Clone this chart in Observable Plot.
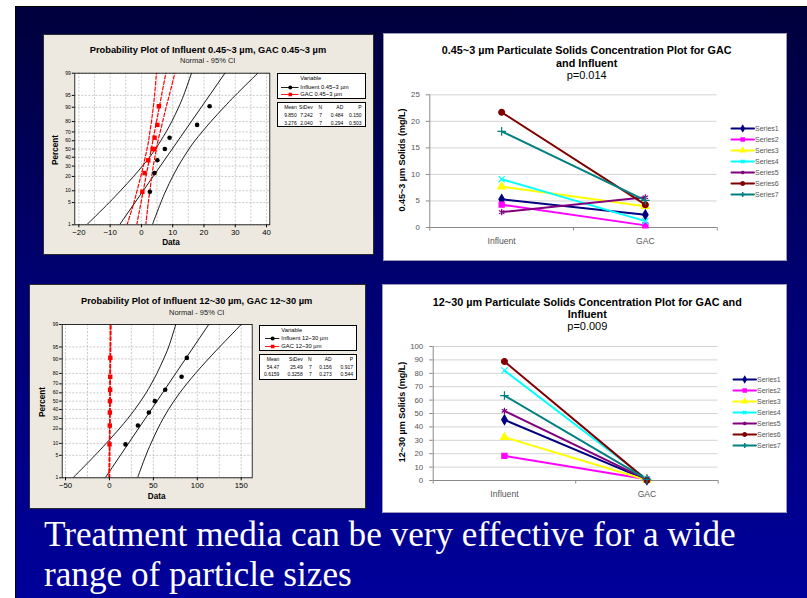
<!DOCTYPE html>
<html><head><meta charset="utf-8">
<script src="https://cdn.jsdelivr.net/npm/d3@7"></script>
<script src="https://cdn.jsdelivr.net/npm/@observablehq/plot@0.6"></script>
<style>
html,body{margin:0;padding:0;background:#fff;}
#slide{position:relative;width:807px;height:598px;overflow:hidden;background:#fff;}
#bg{position:absolute;left:15px;top:6px;width:800px;height:600px;background:linear-gradient(#00003c,#000070 45%,#00009c);border-left:1px solid #000;border-top:1px solid #000;}
.abs{position:absolute;box-sizing:border-box;}
.lbl{position:absolute;white-space:nowrap;line-height:1;}
#caption{position:absolute;left:44px;top:515px;font:35.2px "Liberation Serif","Times New Roman",serif;line-height:40px;color:#fff;white-space:nowrap;}
</style></head><body><div id="slide"><div id="bg"></div>
<div id="caption">Treatment media can be very effective for a wide<br>range of particle sizes</div></div>
<script>
// ---------- data ----------
const categories = ["Influent", "GAC"];
const seriesNames = ["Series1","Series2","Series3","Series4","Series5","Series6","Series7"];
const seriesColors = ["#000080","#FF00FF","#FFFF00","#00FFFF","#800080","#800000","#008080"];
const seriesSymbols = ["diamond","square","triangle","times","asterisk","circle","plus"];

// 0.45~3 um concentrations (mg/L)
const fineInfluent = [5.3, 4.3, 7.7, 9.1, 2.9, 21.7, 18.1];
const fineGAC      = [2.4, 0.4, 4.0, 1.2, 5.7, 4.3, 5.1];
// 12~30 um concentrations (mg/L)
const coarseInfluent = [45.3, 18.4, 32.3, 82.1, 52.0, 88.8, 63.4];
const coarseGAC      = [0.5, 1.0, 0.4, 0.9, 0.6, 0.1, 0.8];

const fineYTicks = [0, 5, 10, 15, 20, 25];
const coarseYTicks = [0, 10, 20, 30, 40, 50, 60, 70, 80, 90, 100];

// probability plots
const percentTicks = [1, 5, 10, 20, 30, 40, 50, 60, 70, 80, 90, 95, 99];
const rankPercents = [9.46, 22.97, 36.49, 50, 63.51, 77.03, 90.54];
const ciPercents   = [1, 5, 10, 20, 30, 40, 50, 60, 70, 80, 90, 95, 99];
const fitPercents  = [1, 99];

const fineInfluentSorted = [2.7, 4.2, 5.1, 7.5, 9.0, 17.8, 21.8];
const fineGACPoints   = [0.3, 1.0, 2.2, 3.6, 4.1, 4.2, 5.1, 5.6];
const fineGACPercents = [9.46, 22.97, 36.49, 50, 50, 63.51, 77.03, 90.54];
const fineInfluentLower = [-17.5, -10.3, -6.7, -2.5, 0.3, 2.6, 4.5, 6.2, 7.9, 9.7, 11.9, 13.5, 16.0];
const fineInfluentUpper = [3.5, 6.2, 7.8, 10.0, 11.8, 13.5, 15.2, 17.1, 19.4, 22.2, 26.4, 30.0, 37.2];
const fineInfluentFit = [-7.0, 26.7];
const fineGACLower = [-4.6, -2.4, -1.4, -0.2, 0.6, 1.2, 1.8, 2.3, 2.7, 3.2, 3.8, 4.2, 4.8];
const fineGACUpper = [1.4, 2.2, 2.7, 3.3, 3.8, 4.3, 4.8, 5.3, 6.0, 6.8, 7.9, 8.9, 10.7];
const fineGACFit = [-1.5, 7.8];

const coarseInfluentSorted = [18.3, 32.4, 44.9, 51.7, 63.5, 82.1, 88.1];
const coarseGACSorted = [0.1, 0.4, 0.5, 0.6, 0.8, 0.9, 1.0];
const coarseInfluentLower = [-41.5, -16.4, -3.7, 11.1, 21.0, 28.8, 35.6, 41.8, 47.7, 54.0, 61.7, 67.4, 75.5];
const coarseInfluentUpper = [32.0, 41.5, 47.3, 55.0, 61.2, 67.2, 73.4, 80.1, 88.0, 97.9, 112.6, 125.4, 150.0];
const coarseInfluentFit = [-4.8, 113.0];
const coarseGACLower = [-0.6, -0.3, -0.1, 0.1, 0.2, 0.3, 0.4, 0.5, 0.5, 0.6, 0.7, 0.8, 0.9];
const coarseGACUpper = [0.3, 0.5, 0.5, 0.6, 0.7, 0.8, 0.9, 0.9, 1.0, 1.2, 1.4, 1.5, 1.8];
const coarseGACFit = [-0.1, 1.4];

const fineXTicks = [-20, -10, 0, 10, 20, 30, 40];
const fineXGrid  = [-20, -15, -10, -5, 0, 5, 10, 15, 20, 25, 30, 35, 40];
const coarseXTicks = [-50, 0, 50, 100, 150];
const coarseXGrid  = [-50, -25, 0, 25, 50, 75, 100, 125, 150];

const statHeader = ["Mean", "StDev", "N", "AD", "P"];
const fineStats   = [["9.850","7.242","7","0.484","0.150"],["3.276","2.040","7","0.294","0.503"]];
const coarseStats = [["54.47","25.49","7","0.156","0.917"],["0.6159","0.3258","7","0.273","0.544"]];

// ---------- helpers ----------
const slide = document.getElementById("slide");
function probit(p){
  const a=[-3.969683028665376e+01,2.209460984245205e+02,-2.759285104469687e+02,1.383577518672690e+02,-3.066479806614716e+01,2.506628277459239e+00];
  const b=[-5.447609879822406e+01,1.615858368580409e+02,-1.556989798598866e+02,6.680131188771972e+01,-1.328068155288572e+01];
  const c=[-7.784894002430293e-03,-3.223964580411365e-01,-2.400758277161838e+00,-2.549671010243277e+00,4.374664141464968e+00,2.938163982698783e+00];
  const d=[7.784695709041462e-03,3.224671290700398e-01,2.445134137142996e+00,3.754408661907416e+00];
  const pl=0.02425; let q,r;
  if(p<pl){q=Math.sqrt(-2*Math.log(p));return (((((c[0]*q+c[1])*q+c[2])*q+c[3])*q+c[4])*q+c[5])/((((d[0]*q+d[1])*q+d[2])*q+d[3])*q+1);}
  if(p<=1-pl){q=p-0.5;r=q*q;return (((((a[0]*r+a[1])*r+a[2])*r+a[3])*r+a[4])*r+a[5])*q/(((((b[0]*r+b[1])*r+b[2])*r+b[3])*r+b[4])*r+1);}
  q=Math.sqrt(-2*Math.log(1-p));return -(((((c[0]*q+c[1])*q+c[2])*q+c[3])*q+c[4])*q+c[5])/((((d[0]*q+d[1])*q+d[2])*q+d[3])*q+1);
}
const zp = p => probit(p/100);
function box(x,y,w,h,style){const d=document.createElement("div");d.className="abs";Object.assign(d.style,{left:x+"px",top:y+"px",width:w+"px",height:h+"px"},style);slide.appendChild(d);return d;}
function label(text,x,y,o={}){
  const el=document.createElement("div");el.className="lbl";el.textContent=text;
  el.style.left=x+"px";el.style.top=y+"px";el.style.font=o.font||"8px 'Liberation Sans',Arial,sans-serif";
  el.style.color=o.color||"#000";
  const ax=o.ax??-50;
  el.style.transform=`translate(${ax}%,-50%)`+(o.rot?` rotate(${o.rot}deg)`:"");
  slide.appendChild(el);return el;
}
function place(node,x,y){node.style.position="absolute";node.style.left=x+"px";node.style.top=y+"px";slide.appendChild(node);}
const SANS="'Liberation Sans',Arial,sans-serif";

// ---------- Minitab probability plot ----------
function probPlot(c){
  const zt=percentTicks.map(zp);
  const lab=new Map(zt.map((v,i)=>[v,String(percentTicks[i])]));
  const rows=(xs,ps)=>xs.map((x,i)=>({x,y:zp(ps[i])}));
  const blk={x:"x",y:"y",stroke:"black",strokeWidth:0.9,curve:"catmull-rom",clip:true};
  const red={x:"x",y:"y",stroke:"#ff0000",strokeWidth:1.2,strokeDasharray:"3.5,2",curve:"catmull-rom",clip:true};
  const grid={stroke:"#a8a8a8",strokeOpacity:1,strokeDasharray:"2,1.5",strokeWidth:0.6};
  const p=Plot.plot({
    width:c.w,height:c.h,marginLeft:c.m[0],marginRight:c.m[1],marginTop:c.m[2],marginBottom:c.m[3],
    x:{domain:c.xDomain,label:null},y:{domain:[zp(1),zp(99)],label:null},
    style:{background:"transparent",overflow:"visible",fontFamily:SANS},
    marks:[
      Plot.frame({fill:"white"}),
      Plot.gridX(c.xGrid,grid),
      Plot.gridY(zt,grid),
      Plot.line(rows(c.infLower,ciPercents),blk),
      Plot.line(rows(c.infUpper,ciPercents),blk),
      Plot.line(rows(c.infFit,fitPercents),blk),
      Plot.line(rows(c.gacLower,ciPercents),red),
      Plot.line(rows(c.gacUpper,ciPercents),red),
      Plot.line(rows(c.gacFit,fitPercents),red),
      Plot.dot(rows(c.infPts,c.infPct),{x:"x",y:"y",fill:"black",r:2.3}),
      Plot.dot(rows(c.gacPts,c.gacPct),{x:"x",y:"y",fill:"#ff0000",symbol:"square",r:2.5}),
      Plot.frame({stroke:"#000",strokeWidth:0.8}),
      Plot.axisX(c.xTicks,{tickSize:3,tickPadding:1.5,fontSize:7.8,label:null}),
      Plot.axisY(zt,{tickSize:2.5,tickPadding:1.5,fontSize:5,label:null,tickFormat:v=>lab.get(v)})
    ]
  });
  place(p,c.x,c.y);
}
function minitabLegend(c){
  const bs={border:"0.8px solid #000",background:"#fff"};
  box(c.x1,c.b1[0],c.x2-c.x1,c.b1[1]-c.b1[0],bs);
  box(c.x1,c.b2[0],c.x2-c.x1,c.b2[1]-c.b2[0],bs);
  const f="5.8px "+SANS, ft="5px "+SANS;
  label("Variable",c.keyX[1]+2,c.rows[0],{font:f,ax:0});
  [["black","circle",c.names[0]],["#ff0000","square",c.names[1]]].forEach(([col,sym,nm],i)=>{
    const k=Plot.plot({width:c.keyX[1]-c.keyX[0],height:6,margin:0,
      x:{domain:[0,1],axis:null},y:{domain:[0,1],axis:null},
      style:{background:"transparent",overflow:"visible"},
      marks:[Plot.ruleY([0.5],{stroke:col,strokeWidth:0.9}),Plot.dot([0.5],{x:d=>d,y:()=>0.5,fill:col,symbol:sym,r:2})]});
    place(k,c.keyX[0],c.rows[i+1]-3);
    label(nm,c.keyX[1]+2,c.rows[i+1],{font:f,ax:0});
  });
  [statHeader,...c.stats].forEach((row,ri)=>{
    row.forEach((t,ci)=>label(t,c.cols[ci],c.trows[ri],{font:ft,ax:-100}));
  });
}

// panels
box(43,34,331,221,{background:"#ede9e0",border:"1.5px solid #2b2b2b"});
box(29,284,337,225,{background:"#ede9e0",border:"1.5px solid #2b2b2b"});
box(383,33,404,228,{background:"#fff",border:"1px solid #9c9cb8"});
box(382,284,405,229,{background:"#fff",border:"1px solid #9c9cb8"});

probPlot({x:43,y:34,w:331,h:220,m:[31.3,104.7,38.7,29.7],xDomain:[-21.3,41.05],xGrid:fineXGrid,xTicks:fineXTicks,
  infLower:fineInfluentLower,infUpper:fineInfluentUpper,infFit:fineInfluentFit,
  gacLower:fineGACLower,gacUpper:fineGACUpper,gacFit:fineGACFit,
  infPts:fineInfluentSorted,infPct:rankPercents,gacPts:fineGACPoints,gacPct:fineGACPercents});
probPlot({x:29,y:284,w:337,h:225,m:[32.7,114.3,40,31.7],xDomain:[-53.76,162.5],xGrid:coarseXGrid,xTicks:coarseXTicks,
  infLower:coarseInfluentLower,infUpper:coarseInfluentUpper,infFit:coarseInfluentFit,
  gacLower:coarseGACLower,gacUpper:coarseGACUpper,gacFit:coarseGACFit,
  infPts:coarseInfluentSorted,infPct:rankPercents,gacPts:coarseGACSorted,gacPct:rankPercents});

label("Probability Plot of Influent 0.45~3 µm, GAC 0.45~3 µm",208,50,{font:"bold 9.3px "+SANS});
label("Normal - 95% CI",207.7,59.5,{font:"7.5px "+SANS,color:"#222"});
label("Percent",55,150,{font:"bold 8.2px "+SANS,rot:-90});
label("Data",171,242.3,{font:"bold 8.2px "+SANS});
label("Probability Plot of Influent 12~30 µm, GAC 12~30 µm",196.7,300.7,{font:"bold 9.3px "+SANS});
label("Normal - 95% CI",196.7,311.7,{font:"7.5px "+SANS,color:"#222"});
label("Percent",41.7,401.7,{font:"bold 8.2px "+SANS,rot:-90});
label("Data",156.7,496,{font:"bold 8.2px "+SANS});

minitabLegend({x1:276.7,x2:366,b1:[72.7,99],b2:[101.5,127],keyX:[280.7,298.3],rows:[77.7,86.7,94.2],
  names:["Influent 0.45~3 µm","GAC 0.45~3 µm"],stats:fineStats,cols:[296.7,312.7,322,343.3,361.5],trows:[106.7,114.7,122.5]});
minitabLegend({x1:259.3,x2:357.3,b1:[325,350.7],b2:[353.7,380.5],keyX:[265,279.3],rows:[330,338.2,346.3],
  names:["Influent 12~30 µm","GAC 12~30 µm"],stats:coarseStats,cols:[279.3,302.7,311.7,331.7,353],trows:[359.3,366.5,373.5]});

// ---------- Excel line charts ----------
function excelChart(c){
  const rows=[];
  seriesNames.forEach((s,i)=>{rows.push({series:s,cat:categories[0],v:c.inf[i]});rows.push({series:s,cat:categories[1],v:c.gac[i]});});
  const xOf=d=>categories.indexOf(d.cat)+0.5;
  const p=Plot.plot({
    width:c.w,height:c.h,marginLeft:c.m[0],marginRight:c.m[1],marginTop:c.m[2],marginBottom:c.m[3],
    x:{domain:[0,categories.length],label:null},y:{domain:[0,c.yMax],label:null},
    color:{domain:seriesNames,range:seriesColors},symbol:{domain:seriesNames,range:seriesSymbols},
    style:{background:"transparent",overflow:"visible",fontFamily:SANS},
    marks:[
      Plot.gridY(c.yTicks.filter(v=>v>0),{stroke:"#d4d4d4",strokeOpacity:1,strokeWidth:1}),
      Plot.ruleY([0],{stroke:"#8a8a8a"}),
      Plot.ruleX([0],{stroke:"#8a8a8a"}),
      Plot.axisY(c.yTicks,{tickSize:3.5,tickPadding:6.5,fontSize:7.8,stroke:"#8a8a8a",fill:"#555",label:null}),
      Plot.axisX(d3.range(categories.length+1),{tickSize:3.5,tickFormat:()=>"",stroke:"#8a8a8a",label:null}),
      Plot.axisX(categories.map((_,i)=>i+0.5),{tickSize:0,tickPadding:10,fontSize:8.6,fill:"#555",label:null,tickFormat:v=>categories[Math.floor(v)]}),
      Plot.line(rows,{x:xOf,y:"v",z:"series",stroke:"series",strokeWidth:2}),
      Plot.dot(rows,{x:xOf,y:"v",symbol:"series",fill:"series",stroke:"series",strokeWidth:1.2,r:2.9})
    ]
  });
  place(p,c.x,c.y);
  const lg=Plot.plot({width:52,height:c.lgH,margin:0,
    x:{domain:[0,52],range:[0,52],axis:null},y:{type:"point",domain:seriesNames,range:c.lgRange,padding:0,axis:null},
    color:{domain:seriesNames,range:seriesColors},symbol:{domain:seriesNames,range:seriesSymbols},
    style:{background:"transparent",overflow:"visible",fontFamily:SANS},
    marks:[
      Plot.line(seriesNames.flatMap(s=>[{s,x:1},{s,x:23.5}]),{x:"x",y:"s",z:"s",stroke:"s",strokeWidth:2}),
      Plot.dot(seriesNames,{x:()=>12.2,y:d=>d,symbol:d=>d,fill:d=>d,stroke:d=>d,r:1.7}),
      Plot.text(seriesNames,{x:()=>24.5,y:d=>d,text:d=>d,textAnchor:"start",fontSize:7,fill:"#555"})
    ]});
  place(lg,c.lgX,c.lgY);
}
excelChart({x:383,y:33,w:404,h:228,m:[46.3,70.3,61.3,34],yMax:25,yTicks:fineYTicks,inf:fineInfluent,gac:fineGAC,
  lgX:730,lgY:120,lgH:84,lgRange:[6.5,75]});
excelChart({x:382,y:284,w:405,h:229,m:[50.7,69.3,62,33],yMax:100,yTicks:coarseYTicks,inf:coarseInfluent,gac:coarseGAC,
  lgX:731.5,lgY:370,lgH:84,lgRange:[7.7,77]});

label("0.45~3 µm Particulate Solids Concentration Plot for GAC",586.7,50,{font:"bold 10.8px "+SANS});
label("and Influent",586.7,62.7,{font:"bold 10.8px "+SANS});
label("p=0.014",586.7,75,{font:"11px "+SANS});
label("0.45~3 µm Solids (mg/L)",401.5,160,{font:"bold 9px "+SANS,rot:-90});
label("12~30 µm Particulate Solids Concentration Plot for GAC and",587.3,301.7,{font:"bold 10.8px "+SANS});
label("Influent",587.3,314,{font:"bold 10.8px "+SANS});
label("p=0.009",587.3,326,{font:"11px "+SANS});
label("12~30 µm Solids (mg/L)",401.5,411.7,{font:"bold 9px "+SANS,rot:-90});
</script></body></html>
